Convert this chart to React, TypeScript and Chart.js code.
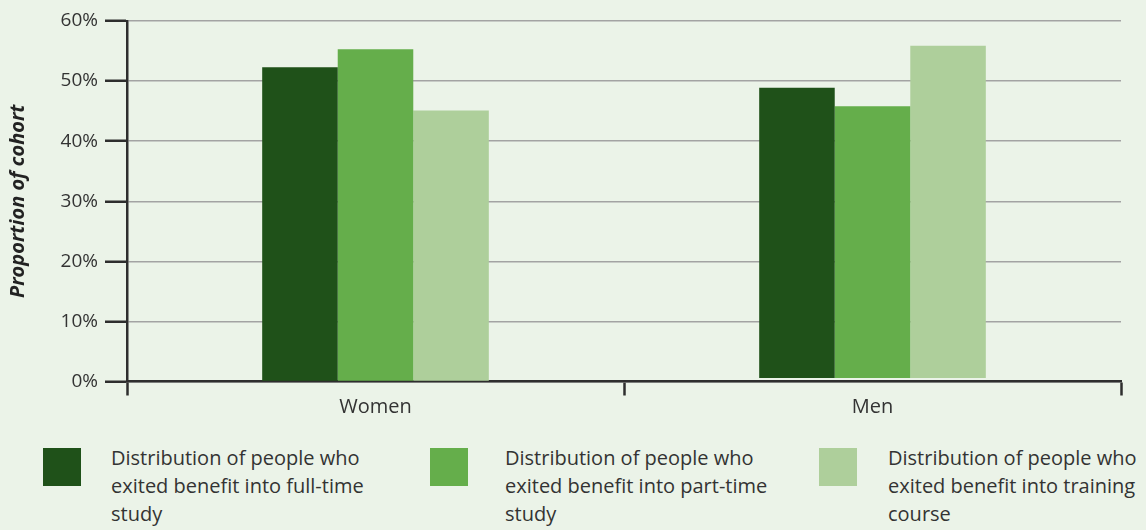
import React, { useEffect, useRef } from "react";
import { Chart, registerables } from "chart.js";

Chart.register(...registerables);

const categories = ["Women", "Men"];
const seriesLabels = [
  ["Distribution of people who", "exited benefit into full-time", "study"],
  ["Distribution of people who", "exited benefit into part-time", "study"],
  ["Distribution of people who", "exited benefit into training", "course"],
];
const barBase = [0, 0.6];
const fullTime = [52.3, 48.9];
const partTime = [55.3, 45.8];
const training = [45.1, 55.9];
const yTicks = [0, 10, 20, 30, 40, 50, 60];
const colors = ["#1f5119", "#65ae4b", "#aecf9b"];

const FONT = "'Open Sans', 'Noto Sans', sans-serif";
const BG = "#ebf3e8";

export default function App() {
  const ref = useRef<HTMLCanvasElement>(null);

  useEffect(() => {
    const canvas = ref.current;
    if (!canvas) return;
    const series = [fullTime, partTime, training];
    const chart = new Chart(canvas, {
      type: "bar",
      data: {
        labels: categories,
        datasets: series.map((s, i) => ({
          label: seriesLabels[i].join(" "),
          data: s.map((v, j) => [barBase[j], v]) as any,
          backgroundColor: colors[i],
          borderWidth: 0,
          barPercentage: 1,
          categoryPercentage: 0.456,
        })),
      },
      options: {
        responsive: false,
        animation: false,
        maintainAspectRatio: false,
        layout: { padding: { top: 21, right: 25, left: 0, bottom: 0 } },
        plugins: { legend: { display: false }, tooltip: { enabled: false } },
        scales: {
          x: {
            grid: {
              offset: true,
              drawOnChartArea: false,
              drawTicks: true,
              tickLength: 14,
              tickColor: "#2e2e2e",
              tickWidth: 2.5,
            },
            border: { display: true, color: "#2e2e2e", width: 2.5 },
            ticks: {
              color: "#333",
              font: { family: FONT, size: 20 },
              padding: 0,
            },
            afterFit: (scale: any) => {
              scale.height = 38.5;
            },
          },
          y: {
            min: 0,
            max: 60,
            afterBuildTicks: (scale: any) => {
              scale.ticks = yTicks.map((v) => ({ value: v }));
            },
            grid: {
              color: "#a3a3a3",
              lineWidth: 1.5,
              drawTicks: true,
              tickLength: 22,
              tickColor: "#2e2e2e",
              tickWidth: 2.5,
            },
            border: { display: true, color: "#2e2e2e", width: 2.5 },
            ticks: {
              color: "#333",
              font: { family: FONT, size: 19 },
              padding: 7,
              callback: (v: any) => v + "%",
            },
            title: {
              display: true,
              text: "Proportion of cohort",
              color: "#222",
              font: { family: FONT, size: 20, weight: "bold", style: "italic" },
              padding: { top: 6, bottom: 0 },
            },
            afterFit: (scale: any) => {
              scale.width = 127;
            },
          },
        },
      },
    });
    return () => chart.destroy();
  }, []);

  const legendPos = [
    { sq: 43, tx: 111 },
    { sq: 430, tx: 505 },
    { sq: 819, tx: 888 },
  ];

  return (
    <div
      style={{
        position: "absolute",
        left: 0,
        top: 0,
        width: 1146,
        height: 530,
        background: BG,
        overflow: "hidden",
      }}
    >
      <canvas
        ref={ref}
        width={1146}
        height={420}
        style={{ position: "absolute", left: 0, top: 0, width: 1146, height: 420 }}
      />
      {legendPos.map((p, i) => (
        <React.Fragment key={i}>
          <div
            style={{
              position: "absolute",
              left: p.sq,
              top: 448,
              width: 38,
              height: 38,
              background: colors[i],
            }}
          />
          <div
            style={{
              position: "absolute",
              left: p.tx,
              top: 444,
              fontFamily: FONT,
              fontSize: 20,
              lineHeight: "28px",
              color: "#333",
              whiteSpace: "nowrap",
            }}
          >
            {seriesLabels[i].map((l, k) => (
              <div key={k}>{l}</div>
            ))}
          </div>
        </React.Fragment>
      ))}
    </div>
  );
}
